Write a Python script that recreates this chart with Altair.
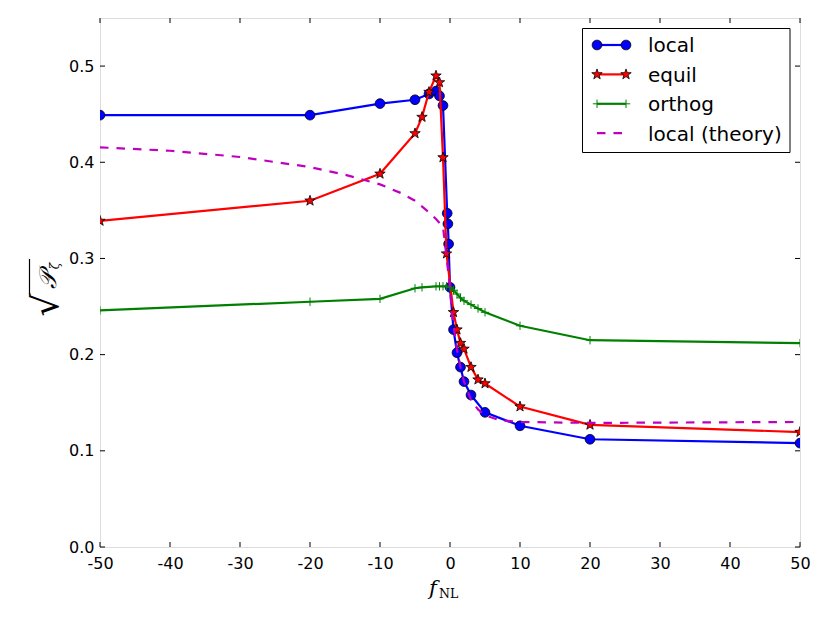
import math
import altair as alt
import pandas as pd

# ---------------- data ----------------
local_x = [-50, -20, -10, -5, -3, -2, -1.5, -1, -0.4, -0.3, -0.2, 0, 0.5, 1, 1.5, 2, 3, 5, 10, 20, 50]
local_y = [0.449, 0.449, 0.461, 0.465, 0.471, 0.474, 0.469, 0.459, 0.347, 0.336, 0.315, 0.270,
           0.226, 0.202, 0.187, 0.172, 0.158, 0.140, 0.126, 0.112, 0.108]

equil_x = [-50, -20, -10, -5, -4, -3, -2, -1.5, -1, -0.5, 0.5, 1, 1.5, 2, 3, 4, 5, 10, 20, 50]
equil_y = [0.339, 0.360, 0.388, 0.430, 0.447, 0.473, 0.490, 0.483, 0.405, 0.305,
           0.244, 0.226, 0.212, 0.206, 0.187, 0.174, 0.170, 0.146, 0.127, 0.1195]

orthog_x = [-50, -20, -10, -5, -4, -2, -1.5, -1, -0.5, 0, 0.5, 1, 1.5, 2, 3, 4, 5, 10, 20, 50]
orthog_y = [0.246, 0.255, 0.258, 0.269, 0.270, 0.271, 0.271, 0.271, 0.271, 0.270,
            0.267, 0.263, 0.259, 0.256, 0.252, 0.248, 0.244, 0.230, 0.215, 0.212]

theory_x = [-50, -40, -30, -20, -15, -10, -7, -5, -3, -2, -1, 0, 0.25, 0.5, 1, 1.5, 2, 3, 4, 5, 7, 10, 20, 50]
theory_y = [0.4155, 0.412, 0.4055, 0.395, 0.387, 0.377, 0.368, 0.360, 0.348, 0.341, 0.333, 0.270,
            0.245, 0.230, 0.205, 0.187, 0.172, 0.153, 0.143, 0.137, 0.132, 0.130, 0.129, 0.130]

series_names = ["local", "equil", "orthog", "local (theory)"]
x_ticks = [-50, -40, -30, -20, -10, 0, 10, 20, 30, 40, 50]
y_ticks = [0.0, 0.1, 0.2, 0.3, 0.4, 0.5]

# ---------------- styling ----------------
W, H = 700, 529
BLUE, RED, GREEN, MAG = "#0000ff", "#ff0000", "#008000", "#bf00bf"
LW = 2.2
CIRCLE_SIZE, STAR_SIZE, PLUS_SIZE = 95, 120, 70


def star_path(inner=0.4):
    pts = []
    for i in range(10):
        r = 1.0 if i % 2 == 0 else inner
        a = -math.pi / 2 + i * math.pi / 5
        pts.append((r * math.cos(a), r * math.sin(a)))
    return "M" + "L".join(f"{px:.3f},{py:.3f}" for px, py in pts) + "Z"


STAR = star_path()
PLUS = "M-1,0L1,0M0,-1L0,1"

xscale = alt.Scale(domain=[-50, 50], nice=False, zero=False)
yscale = alt.Scale(domain=[0, 0.55], nice=False, zero=False)
xaxis = alt.Axis(values=x_ticks, labelExpr="datum.value + ''", title=None, grid=False,
                 domain=False, ticks=False, labelFont="DejaVu Sans", labelFontSize=16,
                 labelColor="black", labelPadding=8, labelFlush=False, labelOverlap=False)
yaxis = alt.Axis(values=y_ticks, labelExpr="format(datum.value, '.1f')", title=None, grid=False,
                 domain=False, ticks=False, labelFont="DejaVu Sans", labelFontSize=16,
                 labelColor="black", labelPadding=6, labelFlush=False, labelOverlap=False)

X = alt.X("x:Q", scale=xscale, axis=xaxis)
Y = alt.Y("y:Q", scale=yscale, axis=yaxis)


def series(xs, ys, color, shape, size, filled, dash=None):
    df = pd.DataFrame({"x": xs, "y": ys})
    base = alt.Chart(df).encode(x=X, y=Y)
    kw = dict(color=color, strokeWidth=LW, clip=True)
    if dash:
        kw["strokeDash"] = dash
    layers = [base.mark_line(**kw)]
    if shape is not None:
        if filled:
            layers.append(base.mark_point(shape=shape, size=size, filled=True, fill=color,
                                          stroke="black", strokeWidth=0.8, opacity=1, clip=True))
        else:
            layers.append(base.mark_point(shape=shape, size=size, filled=False, stroke=color,
                                          strokeWidth=1, opacity=1, clip=True))
    return layers


layers = []
layers += series(local_x, local_y, BLUE, "circle", CIRCLE_SIZE, True)
layers += series(equil_x, equil_y, RED, STAR, STAR_SIZE, True)
layers += series(orthog_x, orthog_y, GREEN, PLUS, PLUS_SIZE, False)
layers += series(theory_x, theory_y, MAG, None, 0, False, dash=[8.5, 8])

# inward ticks on all four sides
xt = alt.Chart(pd.DataFrame({"x": x_ticks}))
yt = alt.Chart(pd.DataFrame({"y": y_ticks}))
TK = 5
layers.append(xt.mark_rule(color="black", strokeWidth=1).encode(x=X, y=alt.value(H), y2=alt.value(H - TK)))
layers.append(xt.mark_rule(color="black", strokeWidth=1).encode(x=X, y=alt.value(0), y2=alt.value(TK)))
layers.append(yt.mark_rule(color="black", strokeWidth=1).encode(y=Y, x=alt.value(0), x2=alt.value(TK)))
layers.append(yt.mark_rule(color="black", strokeWidth=1).encode(y=Y, x=alt.value(W), x2=alt.value(W - TK)))

# ---------------- legend ----------------
one = alt.Chart(pd.DataFrame({"k": [0]}))
layers.append(one.mark_rect(fill="white", stroke="black", strokeWidth=1).encode(
    x=alt.value(482.5), x2=alt.value(690), y=alt.value(10.5), y2=alt.value(134.5)))

leg_styles = [
    (BLUE, "circle", CIRCLE_SIZE, True, None),
    (RED, STAR, STAR_SIZE, True, None),
    (GREEN, PLUS, PLUS_SIZE, False, None),
    (MAG, None, 0, False, [8.5, 8]),
]
LX0, LX1, LTX = 497, 526, 548
for i, (name, (color, shape, size, filled, dash)) in enumerate(zip(series_names, leg_styles)):
    yy = 27 + 29.4 * i
    rkw = dict(color=color, strokeWidth=LW)
    if dash:
        rkw["strokeDash"] = dash
    layers.append(one.mark_rule(**rkw).encode(x=alt.value(LX0), x2=alt.value(LX1), y=alt.value(yy)))
    if shape is not None:
        for lx in (LX0, LX1):
            if filled:
                m = one.mark_point(shape=shape, size=size, filled=True, fill=color,
                                   stroke="black", strokeWidth=0.8, opacity=1)
            else:
                m = one.mark_point(shape=shape, size=size, filled=False, stroke=color,
                                   strokeWidth=1, opacity=1)
            layers.append(m.encode(x=alt.value(lx), y=alt.value(yy)))
    txt = alt.Chart(pd.DataFrame({"name": [name]})).mark_text(
        align="left", baseline="alphabetic", font="DejaVu Sans", fontSize=20, color="black"
    ).encode(x=alt.value(LTX), y=alt.value(yy + 7.3), text="name:N")
    layers.append(txt)

# ---------------- axis titles ----------------
layers.append(one.mark_text(text="f", font="DejaVu Serif", fontStyle="italic", fontSize=21,
                            align="center", baseline="alphabetic", color="black").encode(
    x=alt.value(333), y=alt.value(577)))
layers.append(one.mark_text(text="NL", font="DejaVu Serif", fontSize=12.5,
                            align="left", baseline="alphabetic", color="black").encode(
    x=alt.value(339), y=alt.value(580)))

layers.append(one.mark_text(text="\u221a", font="DejaVu Sans", fontSize=36, angle=270,
                            align="center", baseline="alphabetic", color="black").encode(
    x=alt.value(-42), y=alt.value(287)))
layers.append(one.mark_text(text="\U0001D4AB", font="DejaVu Serif", fontStyle="italic", fontSize=24,
                            angle=270, align="center", baseline="alphabetic", color="black").encode(
    x=alt.value(-44), y=alt.value(262)))
layers.append(one.mark_text(text="\u03b6", font="DejaVu Serif", fontStyle="italic", fontSize=12,
                            angle=270, align="center", baseline="alphabetic", color="black").encode(
    x=alt.value(-41), y=alt.value(248)))
layers.append(one.mark_rule(color="black", strokeWidth=1.2).encode(
    x=alt.value(-70.5), y=alt.value(241), y2=alt.value(276)))

chart = alt.layer(*layers).properties(
    width=W, height=H,
    autosize=alt.AutoSizeParams(type="none"),
    padding={"left": 92, "top": 10, "right": 22, "bottom": 60},
).configure_view(stroke="black", strokeWidth=1.2).configure(background="white")

chart.save("out.html", embed_options={"renderer": "svg", "actions": False})
